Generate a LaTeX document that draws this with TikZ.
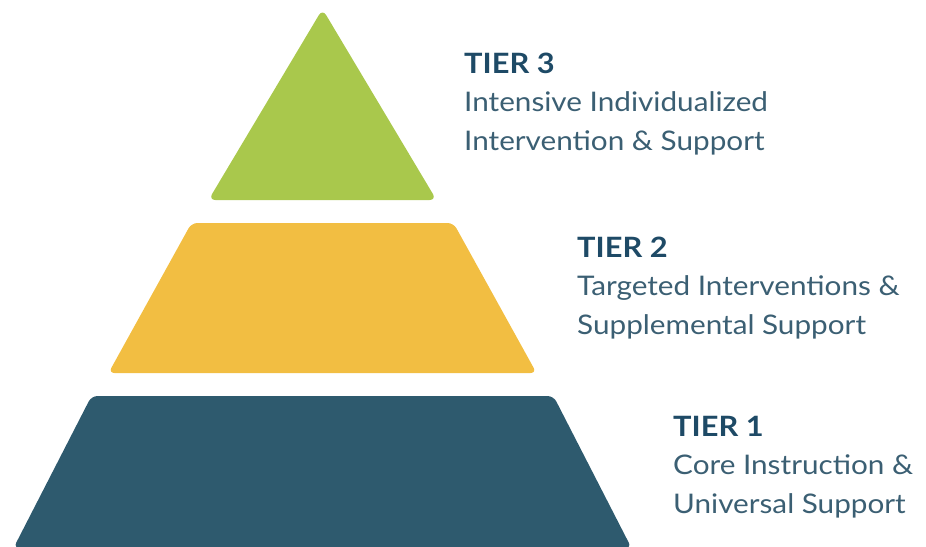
\documentclass[tikz,border=0pt]{standalone}
\usepackage{fontspec}
\setmainfont{Lato}[FakeStretch=1.1]
\usepackage{tikz}
\usetikzlibrary{positioning}
\definecolor{tiergreen}{HTML}{A9C84C}
\definecolor{tieryellow}{HTML}{F2BE42}
\definecolor{tierblue}{HTML}{2E5A6E}
\definecolor{tiertitle}{HTML}{1E4A66}
\definecolor{tierbody}{HTML}{3B5F73}

\begin{document}
\begin{tikzpicture}[x=1pt,y=-1pt,
    tiertext/.style={anchor=base west, inner sep=0, align=left, text=tierbody,
        font=\fontsize{27}{38.5}\selectfont}]
    \pgfmathsetmacro{\cx}{322.5}
    \useasboundingbox (0,0) rectangle (926,546);
    % Top
    \fill[tiergreen, rounded corners=7pt] (\cx,9) -- (\cx+114,200) -- (\cx-114,200) -- cycle;
    % Middle and bottom
    \foreach \yt/\yb/\wt/\wb/\col in {223/373/131/214/tieryellow, 396/548/231/309/tierblue}
    {
        \fill[\col, rounded corners=6pt] (\cx-\wt,\yt) -- (\cx+\wt,\yt) -- (\cx+\wb,\yb) -- (\cx-\wb,\yb) -- cycle;
    }
    % Labels (placed at the last baseline)
    \foreach \n/\x/\y/\a/\b in {3/464/150/Intensive Individualized/Intervention \& Support,
        2/577/334/Targeted Interventions \&/Supplemental Support,
        1/673/513/Core Instruction \&/Universal Support}
    {
        \node[tiertext] (tier\n) at (\x,\y) {{\color{tiertitle}\fontsize{28}{38.5}\selectfont\bfseries TIER \n}\\ \a\\ \b};
    }
\end{tikzpicture}
\end{document}
